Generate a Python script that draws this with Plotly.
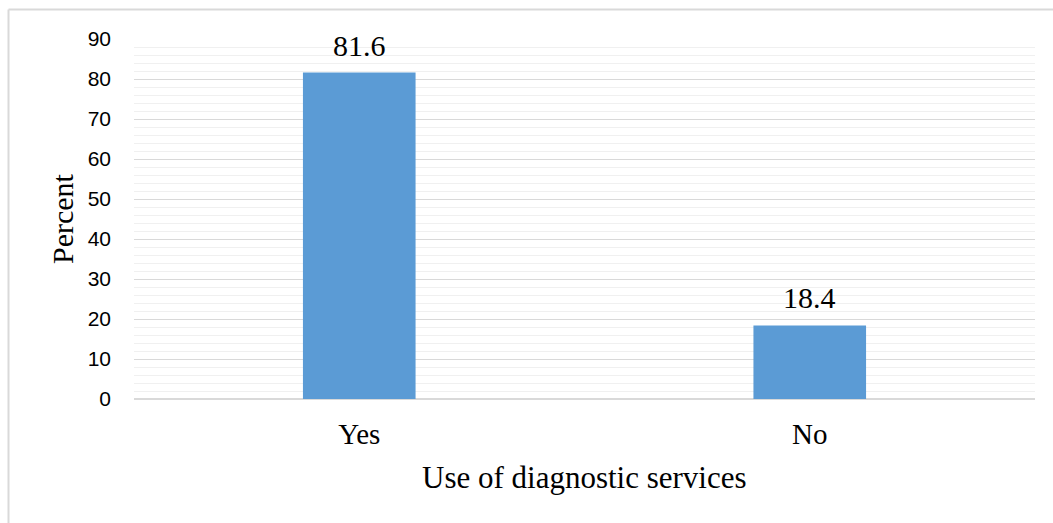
import plotly.graph_objects as go

categories = ["Yes", "No"]
percent = [81.6, 18.4]
y_ticks = [0, 10, 20, 30, 40, 50, 60, 70, 80, 90]

W, H = 1053, 523
L, R, T, B = 134, 18, 39, 124
pw, ph = W - L - R, H - T - B

def px_x(p):
    return (p - L) / pw

def px_y(p):
    return (H - B - p) / ph

fig = go.Figure()
fig.add_trace(go.Bar(x=categories, y=percent, marker=dict(color="#5B9BD5", line=dict(width=0)),
                     hoverinfo="skip"))

for c, v in zip(categories, percent):
    fig.add_annotation(x=c, y=v, text=f"{v}", showarrow=False, yanchor="bottom", yshift=9,
                       font=dict(family="Liberation Serif", size=30, color="#000000"))

fig.add_annotation(xref="paper", yref="paper", x=0.5, y=px_y(477), text="Use of diagnostic services",
                   showarrow=False, xanchor="center", yanchor="middle",
                   font=dict(family="Liberation Serif", size=31, color="#000000"))
fig.add_annotation(xref="paper", yref="paper", x=px_x(62), y=0.5, text="Percent", textangle=-90,
                   showarrow=False, xanchor="center", yanchor="middle",
                   font=dict(family="Liberation Serif", size=30, color="#000000"))

# chart border (left and top edges)
fig.add_shape(type="line", xref="paper", yref="paper", x0=px_x(8.5), x1=px_x(8.5), y0=px_y(9.5), y1=px_y(H + 5),
              line=dict(color="#d9d9d9", width=2))
fig.add_shape(type="line", xref="paper", yref="paper", x0=px_x(8.5), x1=px_x(W + 5), y0=px_y(9.5), y1=px_y(9.5),
              line=dict(color="#d9d9d9", width=2))

fig.update_layout(
    width=W, height=H,
    margin=dict(l=L, r=R, t=T, b=B),
    paper_bgcolor="white", plot_bgcolor="white",
    bargap=0.75, showlegend=False,
    xaxis=dict(showgrid=False, showline=False, zeroline=False, ticks="",
               tickfont=dict(family="Liberation Serif", size=29, color="#000000"),
               ticklabelstandoff=15),
    yaxis=dict(range=[0, 90], tickvals=y_ticks, showgrid=True, gridcolor="#d9d9d9", gridwidth=1,
               zeroline=True, zerolinecolor="#d9d9d9", zerolinewidth=1.5, showline=False, ticks="",
               tickfont=dict(family="Liberation Sans", size=21, color="#000000"),
               ticklabelstandoff=22,
               minor=dict(dtick=2, showgrid=True, gridcolor="#f0f0f0", gridwidth=1)),
)

fig.write_html("out.html")
